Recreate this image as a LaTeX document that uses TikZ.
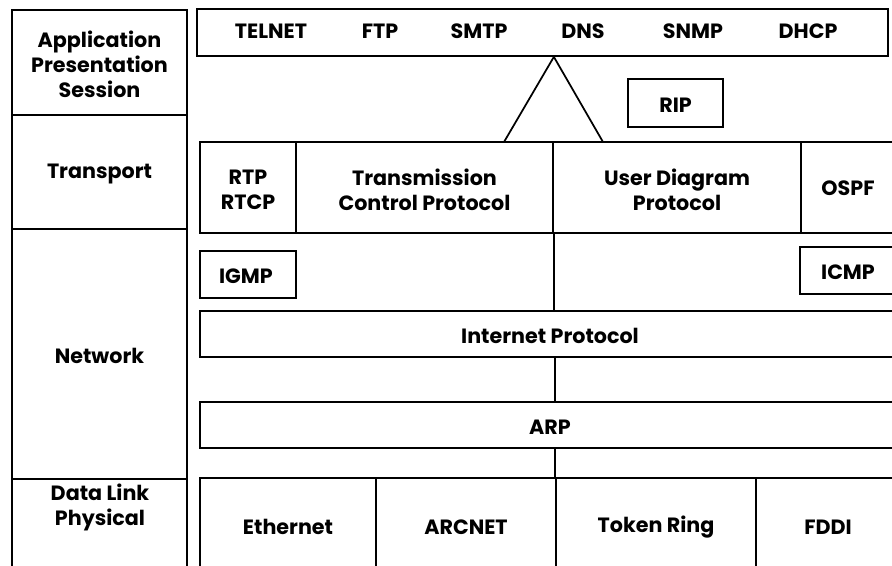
\documentclass[tikz,border=0pt]{standalone}
\usepackage{fontspec}
\setmainfont{Poppins}
\usetikzlibrary{fit}
\begin{document}
\begin{tikzpicture}[x=0.75pt,y=-0.75pt,line width=1.3pt,
  box/.style={draw,inner sep=0pt},
  lbl/.style={inner sep=0pt,font=\bfseries\fontsize{15.5}{18.75}\selectfont,align=center}]
\clip (0,0) rectangle (892,565);
\fill[white] (0,0) rectangle (892,565);
% left column
\node[box,fit={(12,10) (187,115)}] (app) {};
\node[box,fit={(12,115) (187,229)}] (trans) {};
\node[box,fit={(12,229) (187,479)}] (net) {};
\node[box,fit={(12,479) (187,600)}] (dl) {};
\node[lbl] (appl) at ([yshift=-1.5pt]app.center) {Application\\Presentation\\Session};
\node[lbl] (transl) at ([yshift=-1.5pt]trans.center) {Transport};
\node[lbl] (netl) at ([yshift=-1.5pt]net.center) {Network};
\node[lbl] (dll) at (100,507) {Data Link\\Physical};
% application protocols
\node[box,fit={(197,9) (888,56)}] (apps) {};
\node[lbl] (telnet) at (271,31) {TELNET};
\node[lbl] (ftp) at (380,31) {FTP};
\node[lbl] (smtp) at (479,31) {SMTP};
\node[lbl] (dns) at (583,31) {DNS};
\node[lbl] (snmp) at (693,31) {SNMP};
\node[lbl] (dhcp) at (808,31) {DHCP};
\node[box,fit={(628,79) (723,127)}] (rip) {};
\node[lbl] (ripl) at ([yshift=-1.5pt]rip.center) {RIP};
% transport
\node[box,fit={(200,142) (296,233)}] (rtp) {};
\node[box,fit={(296,142) (553,233)}] (tcp) {};
\node[box,fit={(553,142) (801,233)}] (udp) {};
\node[box,fit={(801,142) (900,233)}] (ospf) {};
\node[lbl] (rtpl) at ([yshift=-1.5pt]rtp.center) {RTP\\RTCP};
\node[lbl] (tcpl) at ([yshift=-1.5pt]tcp.center) {Transmission\\Control Protocol};
\node[lbl] (udpl) at ([yshift=-1.5pt]udp.center) {User Diagram\\Protocol};
\node[lbl] (ospfl) at (848,188) {OSPF};
% network
\node[box,fit={(200,251) (296,298)}] (igmp) {};
\node[box,fit={(800,247) (900,294)}] (icmp) {};
\node[box,fit={(200,311) (900,357)}] (ip) {};
\node[box,fit={(200,402) (900,448)}] (arp) {};
\node[lbl] (igmpl) at (246,276) {IGMP};
\node[lbl] (icmpl) at (848,272) {ICMP};
\node[lbl] (ipl) at ([yshift=-1.5pt]ip.center) {Internet Protocol};
\node[lbl] (arpl) at ([yshift=-1.5pt]arp.center) {ARP};
% data link
\node[box,fit={(200,478) (376,575)}] (eth) {};
\node[box,fit={(376,478) (556,575)}] (arc) {};
\node[box,fit={(556,478) (756,575)}] (tok) {};
\node[box,fit={(756,478) (900,575)}] (fddi) {};
\node[lbl] (ethl) at (288,527) {Ethernet};
\node[lbl] (arcl) at (466,527) {ARCNET};
\node[lbl] (tokl) at (656,527) {Token Ring};
\node[lbl] (fddil) at (828,527) {FDDI};
% connectors
\coordinate (apex) at (apps.south -| tcp.north east);
\coordinate (tl) at (504,142);
\coordinate (tr) at (603,142);
\draw (tl) -- (apex) -- (tr);
\draw (tcp.south east) -- (tcp.south east |- ip.north);
\draw (tok.north west |- ip.south) -- (tok.north west |- arp.north);
\draw (tok.north west |- arp.south) -- (tok.north west);
\end{tikzpicture}
\end{document}
